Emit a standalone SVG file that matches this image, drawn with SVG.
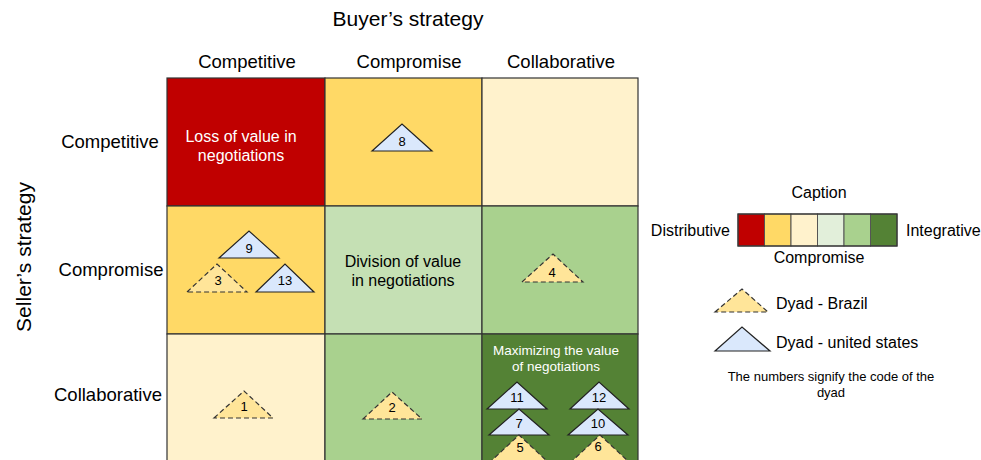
<svg xmlns="http://www.w3.org/2000/svg" width="981" height="460" viewBox="0 0 981 460">
<style>
text{font-family:"Liberation Sans",Arial,sans-serif;fill:#000}
.h{font-size:18.5px;text-anchor:middle}
.t{font-size:21px;text-anchor:middle}
.c{font-size:16px;text-anchor:middle}
.w{fill:#fff}
.n{font-size:13px;text-anchor:middle}
.m{font-size:13.5px;text-anchor:middle}
.cell{stroke:#333;stroke-width:1.2}
.us{fill:#dae8fc;stroke:#222;stroke-width:1.2}
.br{fill:#ffe599;stroke:#333;stroke-width:1.2;stroke-dasharray:5 3}
.lg{font-size:16px}
.sw{stroke:#555;stroke-width:1}
</style>
<rect width="981" height="460" fill="#fff"/>
<text class="t" x="408" y="26">Buyer’s strategy</text>
<text class="t" transform="translate(31,257) rotate(-90)">Seller’s strategy</text>
<text class="h" x="247" y="68">Competitive</text>
<text class="h" x="409" y="68">Compromise</text>
<text class="h" x="561" y="68">Collaborative</text>
<text class="h" x="110" y="148">Competitive</text>
<text class="h" x="111" y="276">Compromise</text>
<text class="h" x="108" y="401">Collaborative</text>
<g id="grid">
<rect class="cell" x="167" y="78" width="158" height="128" fill="#c00000"/>
<rect class="cell" x="325" y="78" width="157" height="128" fill="#ffd966"/>
<rect class="cell" x="482" y="78" width="156" height="128" fill="#fff2cc"/>
<rect class="cell" x="167" y="206" width="158" height="128" fill="#ffd966"/>
<rect class="cell" x="325" y="206" width="157" height="128" fill="#c5e0b4"/>
<rect class="cell" x="482" y="206" width="156" height="128" fill="#a9d18e"/>
<rect class="cell" x="167" y="334" width="158" height="140" fill="#fff2cc"/>
<rect class="cell" x="325" y="334" width="157" height="140" fill="#a9d18e"/>
<rect class="cell" x="482" y="334" width="156" height="140" fill="#548235"/>
</g>
<text class="c w" x="241" y="142">Loss of value in</text>
<text class="c w" x="241" y="161">negotiations</text>
<text class="c" x="403" y="267">Division of value</text>
<text class="c" x="403" y="286">in negotiations</text>
<text class="m w" x="556" y="355">Maximizing the value</text>
<text class="m w" x="556" y="371">of negotiations</text>
<g id="d8"><polygon class="us" points="372,151 402,124 432,151"/><text class="n" x="402" y="146">8</text></g>
<g id="d9"><polygon class="us" points="219,258 249,231 279,258"/><text class="n" x="249" y="253">9</text></g>
<g id="d3"><polygon class="br" points="187,292 217,264 247,292"/><text class="n" x="218" y="285">3</text></g>
<g id="d13"><polygon class="us" points="256,292 285,264 314,292"/><text class="n" x="285" y="285">13</text></g>
<g id="d1"><polygon class="br" points="214,418 244,391 273,418"/><text class="n" x="244" y="411">1</text></g>
<g id="d2"><polygon class="br" points="363,419 392,392 422,419"/><text class="n" x="392" y="412">2</text></g>
<g id="d4"><polygon class="br" points="522,282 553,254 583,282"/><text class="n" x="552" y="277">4</text></g>
<g id="d11"><polygon class="us" points="487,409 517,382 547,409"/><text class="n" x="517" y="402">11</text></g>
<g id="d12"><polygon class="us" points="570,409 599,382 629,409"/><text class="n" x="599" y="402">12</text></g>
<g id="d7"><polygon class="us" points="489,435 519,409 549,435"/><text class="n" x="519" y="428">7</text></g>
<g id="d10"><polygon class="us" points="568,435 598,409 628,435"/><text class="n" x="598" y="428">10</text></g>
<g id="d5"><polygon class="br" points="489,463 519,435 549,463"/><text class="n" x="520" y="452">5</text></g>
<g id="d6"><polygon class="br" points="570,463 600,435 630,463"/><text class="n" x="598" y="451">6</text></g>
<g id="legend">
<text class="lg" x="819" y="198" text-anchor="middle">Caption</text>
<rect class="sw" x="738" y="214" width="26.5" height="32" fill="#c00000"/>
<rect class="sw" x="764.5" y="214" width="26.5" height="32" fill="#ffd966"/>
<rect class="sw" x="791" y="214" width="26.5" height="32" fill="#fff2cc"/>
<rect class="sw" x="817.5" y="214" width="26.5" height="32" fill="#e2efda"/>
<rect class="sw" x="844" y="214" width="26.5" height="32" fill="#a9d18e"/>
<rect class="sw" x="870.5" y="214" width="26.5" height="32" fill="#548235"/>
<rect x="738" y="214" width="159" height="32" fill="none" stroke="#333" stroke-width="1.2"/>
<text class="lg" x="730" y="236" text-anchor="end">Distributive</text>
<text class="lg" x="906" y="236">Integrative</text>
<text class="lg" x="819" y="263" text-anchor="middle">Compromise</text>
<polygon class="br" points="715,312 742,289 768,312"/>
<text class="lg" x="776" y="309">Dyad - Brazil</text>
<polygon class="us" points="715,351 742,327 770,351"/>
<text class="lg" x="776" y="348">Dyad - united states</text>
<text x="831" y="381" font-size="13px" text-anchor="middle">The numbers signify the code of the</text>
<text x="831" y="397" font-size="13px" text-anchor="middle">dyad</text>
</g>
</svg>
